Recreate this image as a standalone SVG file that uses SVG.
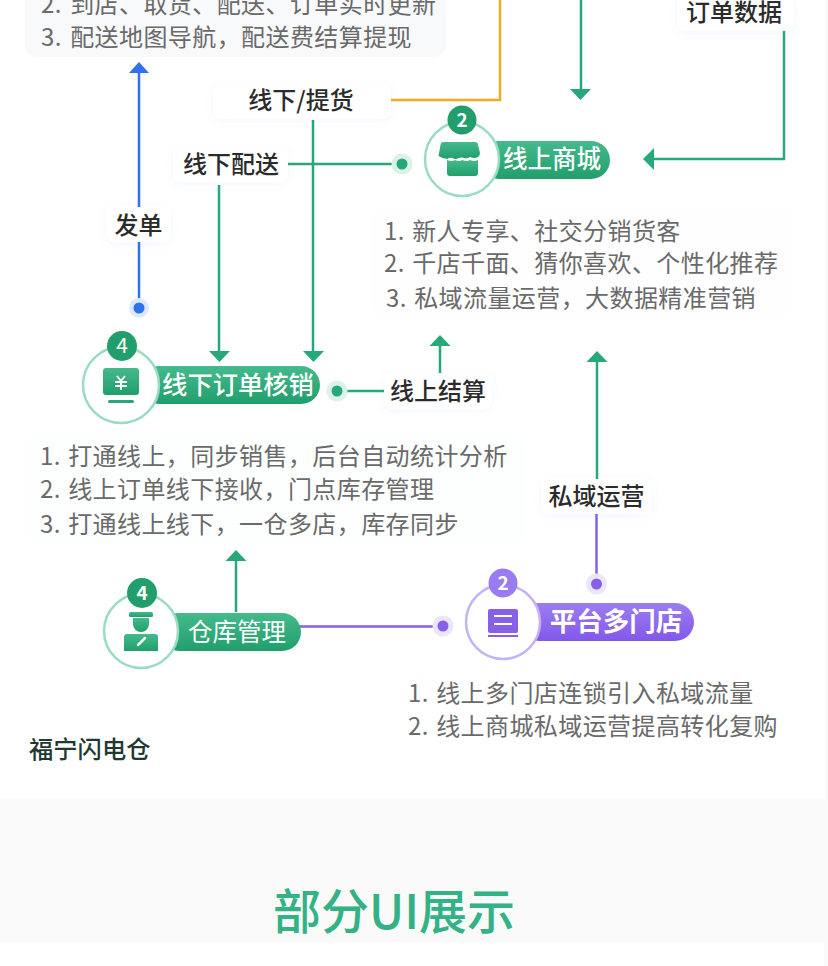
<svg xmlns="http://www.w3.org/2000/svg" width="828" height="966" viewBox="0 0 828 966">
<style>
text{font-family:"Noto Sans CJK SC","Noto Sans",sans-serif}
.li{font-size:24px;fill:#6a6a6a;letter-spacing:.42px}
.lb{font-size:24px;fill:#2b2b2b;font-weight:500;text-anchor:middle}
.nm{font-size:24.5px;fill:#fff;font-weight:500;text-anchor:middle}
.bd{font-size:19px;fill:#fff;font-weight:700;text-anchor:middle}
.g{stroke:#27a878;stroke-width:2.5;fill:none}
.pill{fill:url(#gg)}
.chip{fill:#fff;filter:url(#sh)}
.ring{fill:#fff;stroke:#9adcc0;stroke-width:2.5}
.ringp{fill:#fff;stroke:#c4b2f7;stroke-width:2.5}
.ico{fill:url(#gg)}
.icop{fill:#8760ea}
</style>
<defs>
<linearGradient id="gg" x1="0" y1="0" x2="0" y2="1"><stop offset="0" stop-color="#45ba8d"/><stop offset="1" stop-color="#219e6c"/></linearGradient>
<linearGradient id="gp" x1="0" y1="0" x2="0" y2="1"><stop offset="0" stop-color="#9b7ef0"/><stop offset="1" stop-color="#8258ea"/></linearGradient>
<filter id="sh" x="-20%" y="-40%" width="140%" height="190%"><feDropShadow dx="0" dy="2" stdDeviation="4" flood-color="#3b7be8" flood-opacity=".06"/></filter>
</defs>
<rect width="828" height="966" fill="#fff"/>
<rect x="0" y="799" width="828" height="143" fill="#fafafa"/>
<rect x="825" y="0" width="3" height="799" fill="#fafafa"/>
<rect x="824" y="942" width="4" height="24" fill="#fafafa"/>
<rect x="25" y="-40" width="421" height="97" rx="12" fill="#f8f9fb"/>
<rect x="24" y="436" width="500" height="106" rx="12" fill="#fdfefe"/>
<rect x="372" y="207" width="422" height="110" rx="12" fill="#fefefe"/>

<g id="connectors">
<path d="M139 72V308" stroke="#2f72ee" stroke-width="2.5" fill="none"/>
<path d="M139 62l10 11h-20z" fill="#2f72ee"/>
<circle cx="139" cy="308" r="10" fill="#dfe8fc"/><circle cx="139" cy="308" r="5.500" fill="#2f72ee"/>
<path d="M390 100H500V0" stroke="#f8a825" stroke-width="2.5" fill="none"/>
<path class="g" d="M581 0V92"/><path d="M570 89h21l-10.500 11z" fill="#27a878"/>
<path class="g" d="M784 30V159H652"/><path d="M654 148v22l-11-11z" fill="#27a878"/>
<path class="g" d="M288 164H402"/>
<circle cx="402" cy="164" r="10.500" fill="#dcf2e9"/><circle cx="402" cy="164" r="5.500" fill="#27a878"/>
<path class="g" d="M313 120V352"/><path d="M303 351h21l-10.500 11z" fill="#27a878"/>
<path class="g" d="M219 185V352"/><path d="M209 351h21l-10.500 11z" fill="#27a878"/>
<path class="g" d="M337 391H384"/>
<circle cx="337" cy="391" r="10.500" fill="#dcf2e9"/><circle cx="337" cy="391" r="5.500" fill="#27a878"/>
<path d="M440 335l10.500 11h-21z" fill="#27a878"/><path class="g" d="M440 345V376"/>
<path class="g" d="M597 362V480"/><path d="M597 351l10.500 11h-21z" fill="#27a878"/>
<path d="M596.500 512V584" stroke="#8760ea" stroke-width="2.500" fill="none"/>
<circle cx="596.500" cy="584" r="10.500" fill="#ece6fd"/><circle cx="596.500" cy="584" r="5.500" fill="#8760ea"/>
<path class="g" d="M236 560V612"/><path d="M236 550l10.500 11h-21z" fill="#27a878"/>
<path d="M298 626.500H443" stroke="#8760ea" stroke-width="2.500" fill="none"/>
<circle cx="443" cy="626" r="10.500" fill="#ece6fd"/><circle cx="443" cy="626" r="5.500" fill="#8760ea"/>
</g>

<g id="list-top">
<text class="li" x="41" y="13">2. <tspan dx="2.500">到店、取货、配送、订单实时更新</tspan></text>
<text class="li" x="41" y="46">3. <tspan dx="2.500">配送地图导航，配送费结算提现</tspan></text>
</g>
<g id="list-shop">
<text class="li" x="384" y="240">1. <tspan dx="1.500">新人专享、社交分销货客</tspan></text>
<text class="li" x="384" y="272">2. <tspan dx="1.500">千店千面、猜你喜欢、个性化推荐</tspan></text>
<text class="li" x="386" y="307">3. <tspan dx="1.500">私域流量运营，大数据精准营销</tspan></text>
</g>
<g id="list-offline">
<text class="li" x="40" y="465">1. <tspan dx="1.500">打通线上，同步销售，后台自动统计分析</tspan></text>
<text class="li" x="40" y="498">2. <tspan dx="1.500">线上订单线下接收，门点库存管理</tspan></text>
<text class="li" x="40" y="533">3. <tspan dx="1.500">打通线上线下，一仓多店，库存同步</tspan></text>
</g>
<g id="list-platform">
<text class="li" x="408" y="702">1. <tspan dx="1.500">线上多门店连锁引入私域流量</tspan></text>
<text class="li" x="408" y="735">2. <tspan dx="1.500">线上商城私域运营提高转化复购</tspan></text>
</g>

<g id="chip-order-data"><rect class="chip" x="677" y="-8" width="117" height="39" rx="8"/><text class="lb" x="734" y="21">订单数据</text></g>
<g id="chip-pickup"><rect class="chip" x="213" y="84" width="178" height="35" rx="8"/><text class="lb" x="301" y="109">线下/提货</text></g>
<g id="chip-delivery"><rect class="chip" x="173" y="147" width="115" height="35" rx="8"/><text class="lb" x="231" y="173">线下配送</text></g>
<g id="chip-dispatch"><rect class="chip" x="106" y="207" width="65" height="35" rx="8"/><text class="lb" x="138.500" y="234">发单</text></g>
<g id="chip-settle"><rect class="chip" x="384" y="373" width="108" height="36" rx="8"/><text class="lb" x="438" y="400">线上结算</text></g>
<g id="chip-private"><rect class="chip" x="541" y="479" width="111" height="35" rx="8"/><text class="lb" x="596.500" y="505">私域运营</text></g>

<g id="node-shop">
<rect class="pill" x="480" y="141" width="130" height="38" rx="19"/>
<circle class="ring" cx="462" cy="159" r="37"/>
<path class="ico" d="M450 142h25a3 3 0 0 1 3 3l2 8a5 5 0 0 1-5 5q-3 0-5-1-3 2-5.500 1-3-1-6 0-3 2-6 0-3-1-5 1-4 0-9-3l2-11a3 3 0 0 1 3-3z"/>
<path class="ico" d="M447 160q5 2 8 0 4 2 7.500 0 4 2 7.500 0 4 2 8 0v13a3 3 0 0 1-3 3h-25a3 3 0 0 1-3-3z"/>
<circle cx="462" cy="120" r="14.500" fill="#219e6c"/>
<text class="bd" x="462" y="127">2</text>
<text class="nm" x="552" y="168">线上商城</text>
</g>

<g id="node-offline">
<rect class="pill" x="140" y="366" width="180" height="38" rx="19"/>
<circle class="ring" cx="121" cy="385" r="38"/>
<rect class="ico" x="103" y="368" width="36" height="27" rx="3"/>
<rect x="108" y="400" width="26" height="3" rx="1.500" fill="#27a878"/>
<path d="M117 376l4 5 4-5M115 382h12M115 386h12M121 381v9" stroke="#fff" stroke-width="2" fill="none"/>
<circle cx="122" cy="346" r="15" fill="#219e6c"/>
<text class="bd" x="122" y="353" style="font-weight:400;font-size:21px">4</text>
<text class="nm" x="238" y="394" style="font-size:25.300px">线下订单核销</text>
</g>

<g id="node-warehouse">
<rect class="pill" x="160" y="613" width="141" height="38" rx="19"/>
<circle class="ring" cx="141" cy="631" r="37"/>
<rect class="ico" x="129" y="612" width="24" height="5" rx="1.500"/>
<path class="ico" d="M133 618h16v6a8 8 0 0 1-16 0z"/>
<path class="ico" d="M127 634h28a3 3 0 0 1 3 3v14h-34v-14a3 3 0 0 1 3-3z"/>
<path d="M138 645l7-7" stroke="#fff" stroke-width="2.500" stroke-linecap="round"/>
<circle cx="142" cy="593" r="15" fill="#219e6c"/>
<text class="bd" x="142" y="600">4</text>
<text class="nm" x="237" y="641" style="font-weight:400">仓库管理</text>
</g>

<g id="node-platform">
<rect x="520" y="603" width="174" height="38" rx="19" fill="url(#gp)"/>
<circle class="ringp" cx="503" cy="622" r="37"/>
<rect class="icop" x="488" y="609" width="30" height="24" rx="2"/>
<path d="M494 616h18M494 624h18" stroke="#fff" stroke-width="2"/>
<rect class="icop" x="488" y="635" width="30" height="2"/>
<circle cx="503" cy="583" r="14.500" fill="#9a7cf2"/>
<text class="bd" x="503" y="590">2</text>
<text class="nm" x="616" y="631" style="font-size:26.500px;font-weight:700">平台多门店</text>
</g>

<text x="29" y="758" font-size="24.300" fill="#1f3a32" font-weight="500">福宁闪电仓</text>
<text x="394" y="929" font-size="48" fill="#33b285" font-weight="500" text-anchor="middle">部分UI展示</text>
</svg>
